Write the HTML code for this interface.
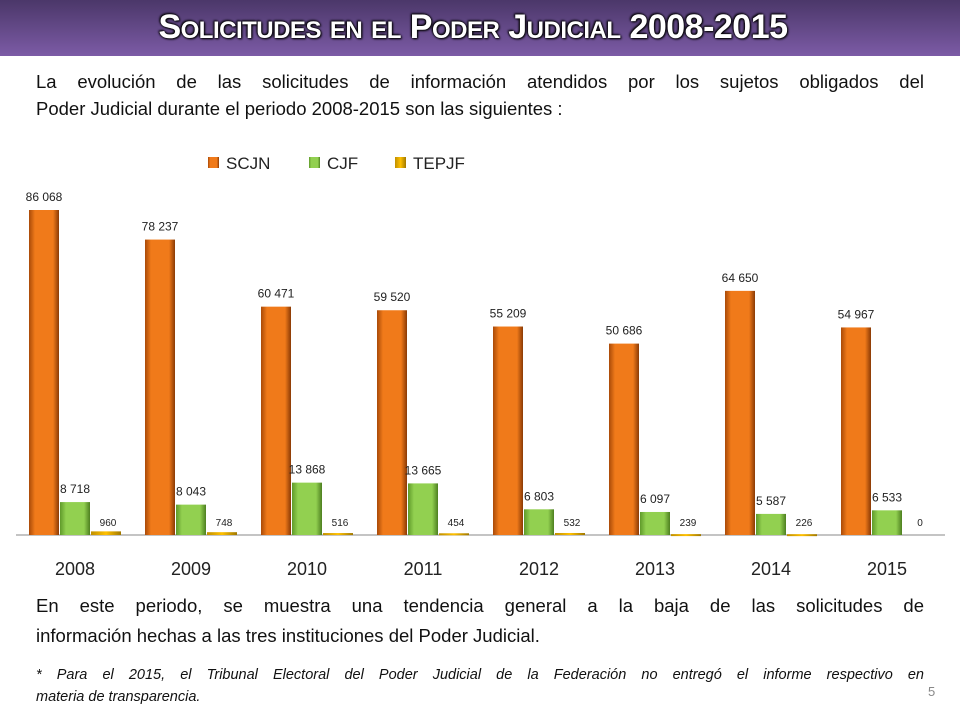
<!DOCTYPE html>
<html><head><meta charset="utf-8">
<style>
body{margin:0;width:960px;height:720px;background:#fff;overflow:hidden;position:relative;font-family:"Liberation Sans",sans-serif;}
#title-bar{position:absolute;left:0;top:0;width:960px;height:56px;background:linear-gradient(#4b3769,#7c5ba6);}
#title{position:absolute;left:0;top:8px;width:946px;text-align:center;color:#fff;font-weight:bold;font-size:34px;font-variant:small-caps;text-shadow:0 0 2px #000,1px 1px 2px #000,-1px -1px 2px #000;letter-spacing:-0.5px}
.p{position:absolute;left:36px;width:888px;font-size:18.5px;color:#111;text-align:justify;text-align-last:justify;line-height:27px;white-space:nowrap}
.fn{position:absolute;left:36px;width:888px;font-size:14.5px;font-style:italic;color:#111;line-height:22px;text-align:justify;text-align-last:justify;white-space:nowrap}
</style></head><body>
<div id="title-bar"></div>
<div id="title">Solicitudes en el Poder Judicial 2008-2015</div>
<div class="p" style="top:68px">La evolución de las solicitudes de información atendidos por los sujetos obligados del</div>
<div class="p" style="top:95px;text-align-last:left">Poder Judicial durante el periodo 2008-2015 son las siguientes :</div>
<svg id="chart" width="960" height="720" style="position:absolute;left:0;top:0"></svg>
<div class="p" style="top:592px">En este periodo, se muestra una tendencia general a la baja de las solicitudes de</div>
<div class="p" style="top:622px;text-align-last:left">información hechas a las tres instituciones del Poder Judicial.</div>
<div class="fn" style="top:664px">* Para el 2015, el Tribunal Electoral del Poder Judicial de la Federación no entregó el informe respectivo en</div>
<div class="fn" style="top:686px;text-align-last:left">materia de transparencia.</div>
<div style="position:absolute;left:928px;top:684px;font-size:13px;color:#888">5</div>
<script>
const years=["2008","2009","2010","2011","2012","2013","2014","2015"];
const scjn=[86068,78237,60471,59520,55209,50686,64650,54967];
const cjf=[8718,8043,13868,13665,6803,6097,5587,6533];
const tepjf=[960,748,516,454,532,239,226,0];
const seriesNames=["SCJN","CJF","TEPJF"];
const NS="http://www.w3.org/2000/svg";
const svg=document.getElementById('chart');
const base=535, scale=325/86068, x0=29, gap=116, bw=30;
const y=v=>base-v*scale;
const fmt=v=>{const s=String(v);return s.length>3?s.slice(0,-3)+" "+s.slice(-3):s;};
const defs=document.createElementNS(NS,'defs');
defs.innerHTML='<linearGradient id="g0" x1="0" x2="1"><stop offset="0" stop-color="#a94a08"/><stop offset="0.2" stop-color="#f07a1a"/><stop offset="0.8" stop-color="#f07a1a"/><stop offset="1" stop-color="#8a3a05"/></linearGradient><linearGradient id="g1" x1="0" x2="1"><stop offset="0" stop-color="#5f9a2a"/><stop offset="0.2" stop-color="#92d050"/><stop offset="0.8" stop-color="#92d050"/><stop offset="1" stop-color="#4d7f20"/></linearGradient><linearGradient id="g2" x1="0" x2="1"><stop offset="0" stop-color="#c09000"/><stop offset="0.5" stop-color="#ffc000"/><stop offset="1" stop-color="#a07800"/></linearGradient>';
svg.appendChild(defs);
function txt(x,yy,s,size,anchor){const t=document.createElementNS(NS,'text');t.setAttribute('x',x);t.setAttribute('y',yy);t.setAttribute('font-size',size);t.setAttribute('text-anchor',anchor||'middle');t.setAttribute('fill','#222');t.setAttribute('font-family','Liberation Sans, sans-serif');t.textContent=s;svg.appendChild(t);return t;}
const axis=document.createElementNS(NS,'line');
axis.setAttribute('x1',16);axis.setAttribute('x2',945);axis.setAttribute('y1',base);axis.setAttribute('y2',base);axis.setAttribute('stroke','#888');


svg.appendChild(axis);
const all=[scjn,cjf,tepjf];
years.forEach((yr,i)=>{
  all.forEach((arr,s)=>{
    const v=arr[i];const bx=x0+gap*i+s*(bw+1);const top=y(v);
    const r=document.createElementNS(NS,'rect');
    r.setAttribute('x',bx);r.setAttribute('y',top);r.setAttribute('width',bw);r.setAttribute('height',Math.max(base-top,s==2&&v>0?2:0));
    r.setAttribute('fill','url(#g'+s+')');
    
    
    svg.appendChild(r);
    const lab=txt(bx+bw/2+(s==2?2:0),(s==2?Math.min(top,base-4)-5:top-9),fmt(v),s==2?10:12);
    
    
  });
  const c=txt(x0+gap*i+46,575,yr,18);
  
  
});
const lx=[208,309,395];
seriesNames.forEach((n,s)=>{
  const r=document.createElementNS(NS,'rect');
  r.setAttribute('x',lx[s]);r.setAttribute('y',157);r.setAttribute('width',11);r.setAttribute('height',11);r.setAttribute('fill','url(#g'+s+')');
  
  
  svg.appendChild(r);
  const t=txt(lx[s]+18,169,n,17,'start');
  
  
});
</script>
</body></html>
